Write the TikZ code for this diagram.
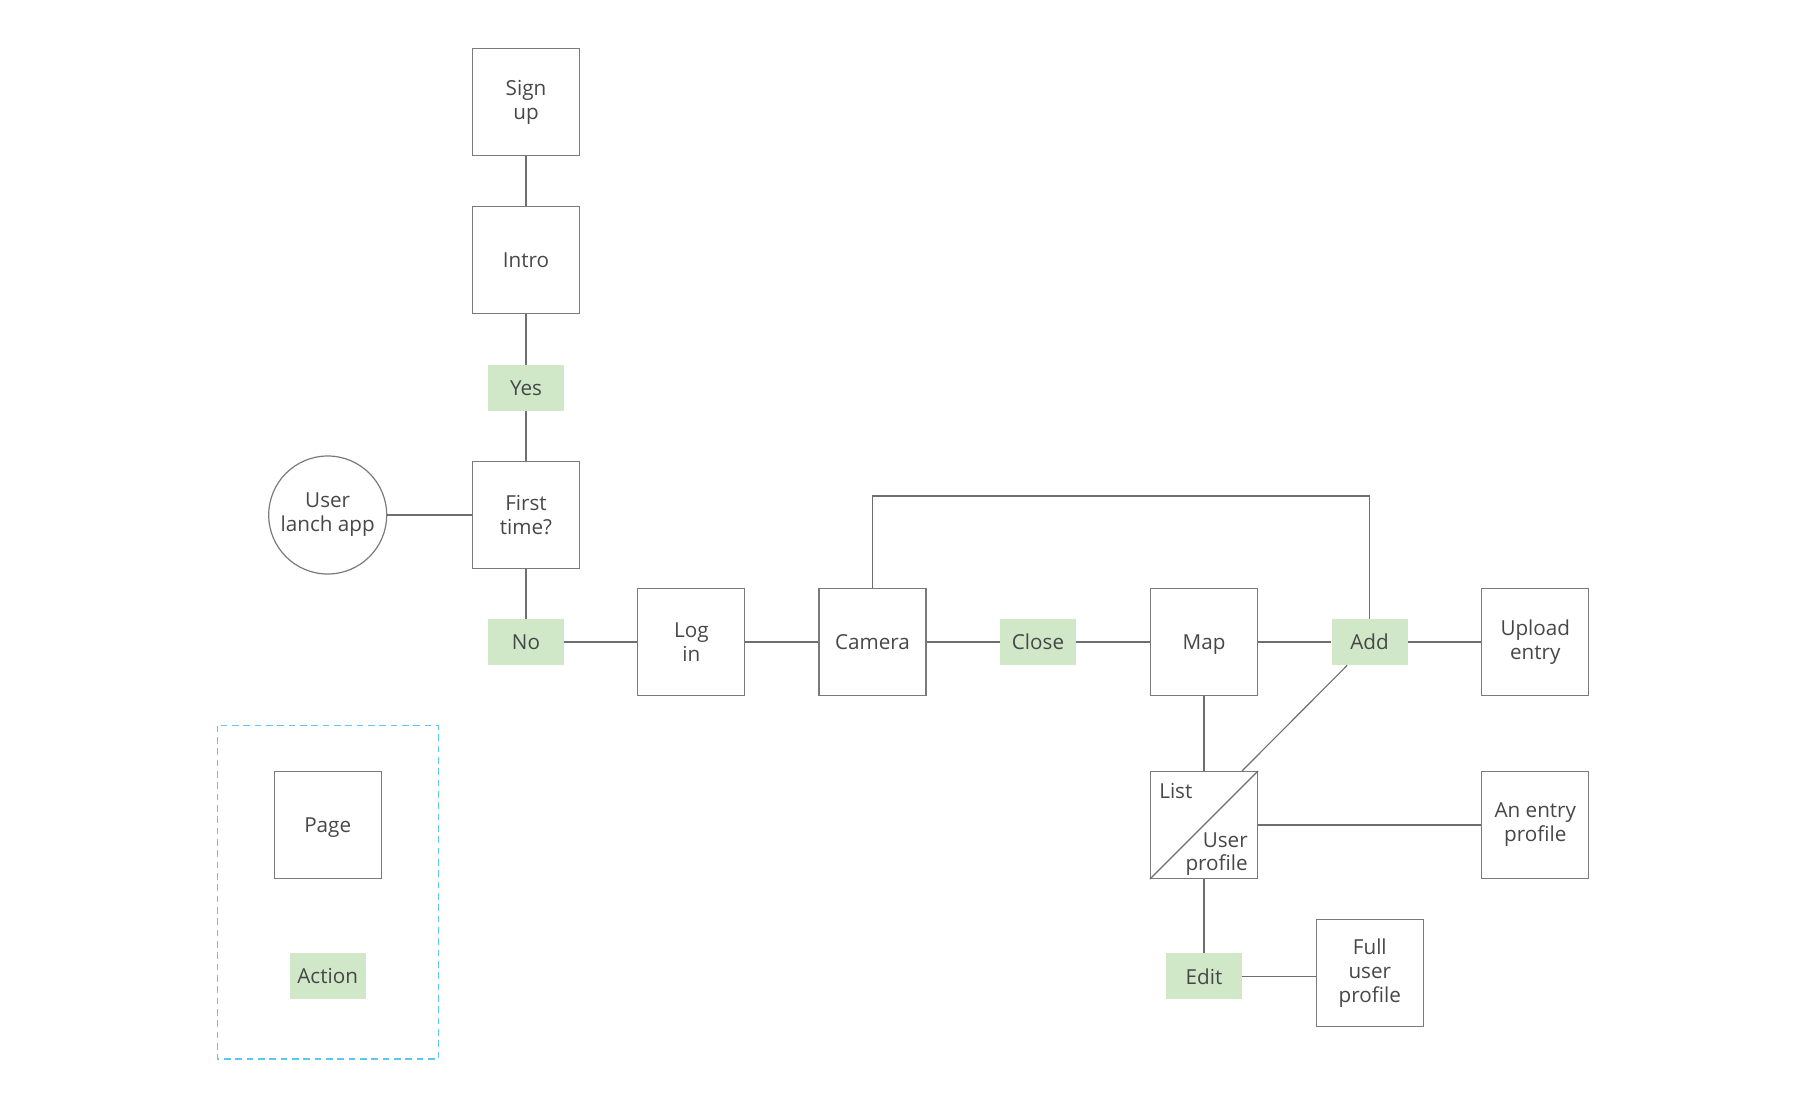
\documentclass[tikz,border=0pt]{standalone}
\usepackage{fontspec}
\setmainfont{Open Sans}
\definecolor{txt}{HTML}{474747}
\definecolor{edge}{HTML}{6E6E6E}
\definecolor{boxline}{HTML}{7A7A7A}
\definecolor{actfill}{HTML}{D0E8C8}
\definecolor{legend}{HTML}{5CC8F0}
\tikzset{
  base/.style={font=\fontsize{15.5}{18}\selectfont, text=txt, align=center, inner sep=0pt},
  page/.style={base, draw=boxline, line width=0.9pt, minimum width=80.25pt, minimum height=80.25pt},
  onel/.style={text depth=0pt},
  act/.style={base, fill=actfill, minimum width=57pt, minimum height=34.5pt},
  start/.style={base, draw=boxline, line width=0.9pt, circle, minimum size=88.5pt},
  conn/.style={draw=edge, line width=0.85pt},
  plain/.style={base}
}
\begin{document}
\begin{tikzpicture}[x=0.75pt,y=-0.75pt]
\useasboundingbox (0,0) rectangle (1805,1108);
% legend
\draw[legend, line width=1.1pt, dash pattern=on 5pt off 3.5pt] (217.5,725.5) rectangle (438.5,1059);
\node[page, onel] (legpage) at (327.7,825) {Page};
\node[act] (legact) at (327.7,976.3) {Action};
% nodes
\node[page] (signup) at (526,102) {Sign\\up};
\node[page, onel] (intro) at (526,260.3) {Intro};
\node[act] (yes) at (526,388) {Yes};
\node[page] (first) at (526,515) {First\\time?};
\node[start] (user) at (327.7,515) {User\\lanch app};
\node[act] (no) at (526,642) {No};
\node[page] (login) at (691.3,642) {Log\\in};
\node[page, onel] (camera) at (872.5,642) {Camera};
\node[act] (close) at (1038,642) {Close};
\node[page, onel] (map) at (1204,642) {Map};
\node[act] (add) at (1369.5,642) {Add};
\node[page] (upload) at (1535.3,642) {Upload\\entry};
\node[page] (list) at (1204,825) {};
\node[plain, anchor=base west] (listlbl) at (1159,798) {List};
\node[plain, anchor=base east, align=right] (uplbl) at (1248,847) {User};
\node[plain, anchor=base east, align=right] (uplbl2) at (1248,870) {profile};
\node[page] (entry) at (1535.3,825) {An entry\\profile};
\node[act] (edit) at (1204,976.3) {Edit};
\node[page] (full) at (1369.8,972.8) {Full\\user\\profile};
\coordinate (looptop) at (872.5,496);
% connectors
\draw[conn] (list.south west) -- (list.north east);
\draw[conn] (signup) -- (intro);
\draw[conn] (intro) -- (yes);
\draw[conn] (yes) -- (first);
\draw[conn] (user) -- (first);
\draw[conn] (first) -- (no);
\draw[conn] (no) -- (login);
\draw[conn] (login) -- (camera);
\draw[conn] (camera) -- (close);
\draw[conn] (close) -- (map);
\draw[conn] (map) -- (add);
\draw[conn] (add) -- (upload);
\draw[conn] (map) -- (list);
\draw[conn] (list) -- (entry);
\draw[conn] (list) -- (edit);
\draw[conn] (edit.east) -- (edit.east -| full.west);
\draw[conn] (camera.north) -- (looptop) -| (add.north);
\draw[conn] ([xshift=12pt]add.south west) -- ([xshift=-12pt]list.north east);
\end{tikzpicture}
\end{document}
